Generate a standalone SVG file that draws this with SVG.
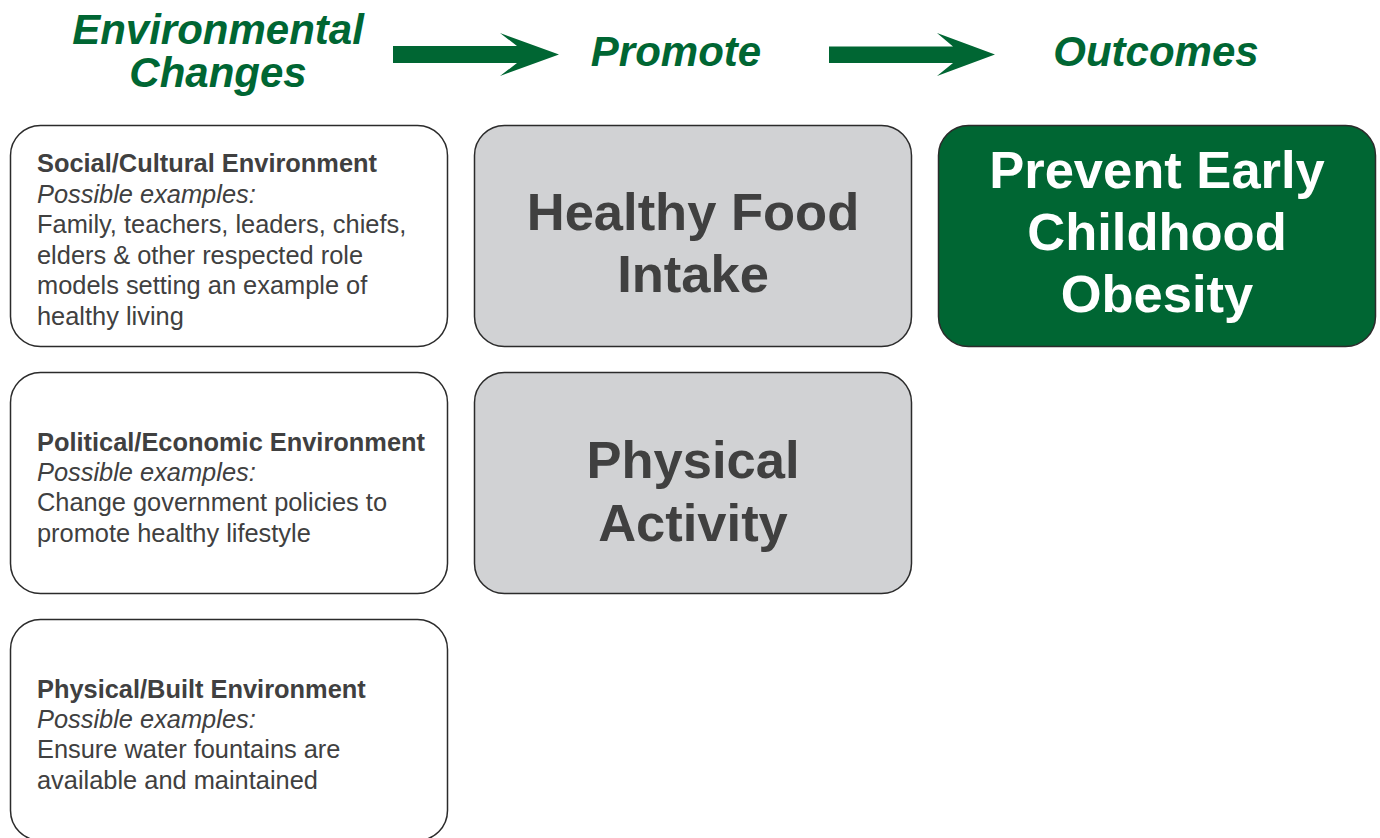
<svg xmlns="http://www.w3.org/2000/svg" width="1380" height="838" viewBox="0 0 1380 838">
  <style>
    .head { font-family: "Liberation Sans", Arial, sans-serif; font-weight: bold; font-style: italic; font-size: 42px; fill: #006633; text-anchor: middle; }
    .env { fill: #ffffff; stroke: #2b2b2b; stroke-width: 1.5; }
    .mid { fill: #d1d2d4; stroke: #2b2b2b; stroke-width: 1.5; }
    .out { fill: #006633; stroke: #2b2b2b; stroke-width: 1.5; }
    .body { font-family: "Liberation Sans", Arial, sans-serif; font-size: 25.4px; fill: #404040; }
    .title { font-weight: bold; }
    .ex { font-style: italic; }
    .big { font-family: "Liberation Sans", Arial, sans-serif; font-weight: bold; font-size: 52.5px; text-anchor: middle; }
    .dark { fill: #404040; }
    .light { fill: #ffffff; }
    .arrow { fill: #006633; }
  </style>

  <!-- column headings -->
  <g id="heading-environment">
    <text class="head" x="218" y="44">Environmental</text>
    <text class="head" x="218" y="87">Changes</text>
  </g>
  <g id="heading-promote">
    <text class="head" x="676" y="66">Promote</text>
  </g>
  <g id="heading-outcomes">
    <text class="head" x="1156" y="66">Outcomes</text>
  </g>

  <!-- block arrows between headings -->
  <g id="connectors">
    <polygon class="arrow" points="393,46 517,46 500,33 559,54.5 500,76 517,63 393,63"/>
    <polygon class="arrow" points="829,46.5 953,46.5 937,33 995,54.5 937,76 953,63 829,63"/>
  </g>

  <!-- environment boxes -->
  <g id="social-cultural">
    <rect class="env" x="10.5" y="125.5" width="437" height="221" rx="30"/>
    <text class="body title" x="37" y="172">Social/Cultural Environment</text>
    <text class="body ex" x="37" y="202.5">Possible examples:</text>
    <text class="body" x="37" y="233">Family, teachers, leaders, chiefs,</text>
    <text class="body" x="37" y="263.5">elders &amp; other respected role</text>
    <text class="body" x="37" y="294">models setting an example of</text>
    <text class="body" x="37" y="324.5">healthy living</text>
  </g>

  <g id="political-economic">
    <rect class="env" x="10.5" y="372.5" width="437" height="221" rx="30"/>
    <text class="body title" x="37" y="450.5">Political/Economic Environment</text>
    <text class="body ex" x="37" y="481">Possible examples:</text>
    <text class="body" x="37" y="511">Change government policies to</text>
    <text class="body" x="37" y="541.5">promote healthy lifestyle</text>
  </g>

  <g id="physical-built">
    <rect class="env" x="10.5" y="619.5" width="437" height="221" rx="30"/>
    <text class="body title" x="37" y="697.5">Physical/Built Environment</text>
    <text class="body ex" x="37" y="728">Possible examples:</text>
    <text class="body" x="37" y="758">Ensure water fountains are</text>
    <text class="body" x="37" y="788.5">available and maintained</text>
  </g>

  <!-- behaviours -->
  <g id="healthy-food">
    <rect class="mid" x="474.5" y="125.5" width="437" height="221" rx="30"/>
    <text class="big dark" x="693" y="229.5">Healthy Food</text>
    <text class="big dark" x="693" y="291.5">Intake</text>
  </g>

  <g id="physical-activity">
    <rect class="mid" x="474.5" y="372.5" width="437" height="221" rx="30"/>
    <text class="big dark" x="693" y="478">Physical</text>
    <text class="big dark" x="693" y="540.5">Activity</text>
  </g>

  <!-- outcome -->
  <g id="prevent-obesity">
    <rect class="out" x="938.5" y="125.5" width="437" height="221" rx="30"/>
    <text class="big light" x="1157" y="188">Prevent Early</text>
    <text class="big light" x="1157" y="250">Childhood</text>
    <text class="big light" x="1157" y="311.5">Obesity</text>
  </g>
</svg>
